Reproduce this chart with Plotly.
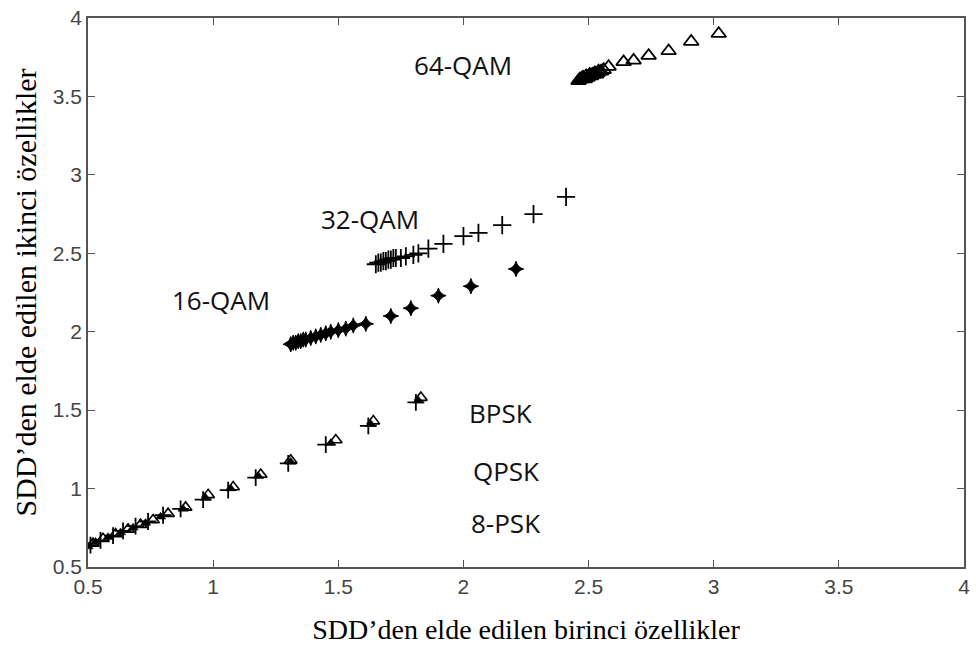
import plotly.graph_objects as go

# 64-QAM (open triangles)
qam64_x = [2.46, 2.465, 2.47, 2.475, 2.48, 2.485, 2.49, 2.495, 2.50, 2.505, 2.51, 2.515, 2.52, 2.525,
           2.53, 2.535, 2.54, 2.55, 2.56, 2.58, 2.64, 2.68, 2.74, 2.82, 2.91, 3.02]
qam64_y = [3.60, 3.61, 3.61, 3.62, 3.62, 3.61, 3.63, 3.62, 3.63, 3.64, 3.63, 3.64, 3.64, 3.65,
           3.64, 3.65, 3.66, 3.66, 3.67, 3.69, 3.72, 3.73, 3.76, 3.79, 3.85, 3.90]

# 32-QAM (plus)
qam32_x = [1.65, 1.66, 1.67, 1.68, 1.69, 1.70, 1.71, 1.72, 1.73, 1.75, 1.77, 1.80, 1.82, 1.86, 1.92, 2.00, 2.06, 2.155, 2.28, 2.41]
qam32_y = [2.43, 2.44, 2.44, 2.45, 2.45, 2.46, 2.46, 2.47, 2.47, 2.47, 2.48, 2.49, 2.50, 2.53, 2.56, 2.61, 2.63, 2.68, 2.75, 2.86]

# 16-QAM (filled four-point stars)
qam16_x = [1.31, 1.32, 1.33, 1.34, 1.35, 1.36, 1.37, 1.39, 1.41, 1.43, 1.45, 1.47, 1.50, 1.53, 1.56, 1.61, 1.71, 1.79, 1.90, 2.03, 2.21]
qam16_y = [1.92, 1.93, 1.93, 1.94, 1.94, 1.95, 1.95, 1.96, 1.97, 1.98, 1.99, 2.00, 2.01, 2.02, 2.04, 2.05, 2.10, 2.15, 2.23, 2.29, 2.40]

# BPSK (open triangles)
bpsk_x = [0.52, 0.56, 0.61, 0.66, 0.71, 0.76, 0.82, 0.89, 0.98, 1.08, 1.19, 1.31, 1.49, 1.64, 1.83]
bpsk_y = [0.65, 0.68, 0.71, 0.74, 0.77, 0.80, 0.84, 0.88, 0.96, 1.01, 1.09, 1.18, 1.31, 1.43, 1.58]

# QPSK (plus)
qpsk_x = [0.51, 0.55, 0.60, 0.64, 0.69, 0.74, 0.80, 0.87, 0.96, 1.06, 1.17, 1.30, 1.45, 1.62, 1.81]
qpsk_y = [0.64, 0.67, 0.70, 0.73, 0.76, 0.79, 0.83, 0.87, 0.93, 0.99, 1.07, 1.16, 1.28, 1.40, 1.55]

# 8-PSK (filled triangles)
psk8_x = [0.50, 0.53, 0.58, 0.63, 0.68, 0.73, 0.79, 0.88, 0.97, 1.07, 1.18, 1.31, 1.47, 1.63, 1.82]
psk8_y = [0.63, 0.66, 0.69, 0.72, 0.75, 0.78, 0.82, 0.87, 0.94, 1.00, 1.08, 1.17, 1.29, 1.41, 1.56]

labels = ["64-QAM", "32-QAM", "16-QAM", "BPSK", "QPSK", "8-PSK"]
label_x = [2.00, 1.627, 1.03, 2.15, 2.17, 2.17]
label_y = [3.70, 2.72, 2.20, 1.48, 1.11, 0.78]

x_ticks = [0.5, 1, 1.5, 2, 2.5, 3, 3.5, 4]
y_ticks = [0.5, 1, 1.5, 2, 2.5, 3, 3.5, 4]

fig = go.Figure()

def add(x, y, symbol, size, width=1.5, color="black"):
    fig.add_trace(go.Scatter(
        x=x, y=y, mode="markers", showlegend=False,
        marker=dict(symbol=symbol, size=size, color=color,
                    line=dict(color="black", width=width))))

add(qam64_x, qam64_y, "triangle-up-open", 13, 1.8)
add(qam32_x, qam32_y, "cross-thin-open", 13, 1.8)
add(qam16_x, qam16_y, "star-diamond", 11, 1.0)
add(bpsk_x, bpsk_y, "triangle-up-open", 11, 1.6)
add(qpsk_x, qpsk_y, "cross-thin-open", 12, 1.8)
add(psk8_x, psk8_y, "triangle-up", 9, 0.5)

for t, x, y in zip(labels, label_x, label_y):
    fig.add_annotation(x=x, y=y, text=t, showarrow=False,
                       font=dict(family="Open Sans, Liberation Sans, sans-serif", size=26, color="#111"))

axis_common = dict(
    showline=True, linecolor="#555", linewidth=1.8, mirror="ticks",
    ticks="inside", ticklen=7, tickcolor="#555", tickwidth=1.2,
    showgrid=False, zeroline=False,
    tickfont=dict(family="Liberation Sans, Arial, sans-serif", size=21, color="#444"),
)

fig.update_xaxes(range=[0.5, 4], tickvals=x_ticks, ticktext=[f"{v:g}" for v in x_ticks],
                 title=dict(text="SDD’den elde edilen birinci özellikler",
                            font=dict(family="Liberation Serif, Times New Roman, serif", size=28, color="black"),
                            standoff=22),
                 **axis_common)
fig.update_yaxes(range=[0.5, 4], tickvals=y_ticks, ticktext=[f"{v:g}" for v in y_ticks],
                 title=dict(text="SDD’den elde edilen ikinci özellikler",
                            font=dict(family="Liberation Serif, Times New Roman, serif", size=30, color="black"),
                            standoff=7),
                 **axis_common)

fig.update_layout(width=976, height=654, margin=dict(l=88, r=6, t=12, b=87),
                  plot_bgcolor="white", paper_bgcolor="white")

fig.write_html("out.html")
